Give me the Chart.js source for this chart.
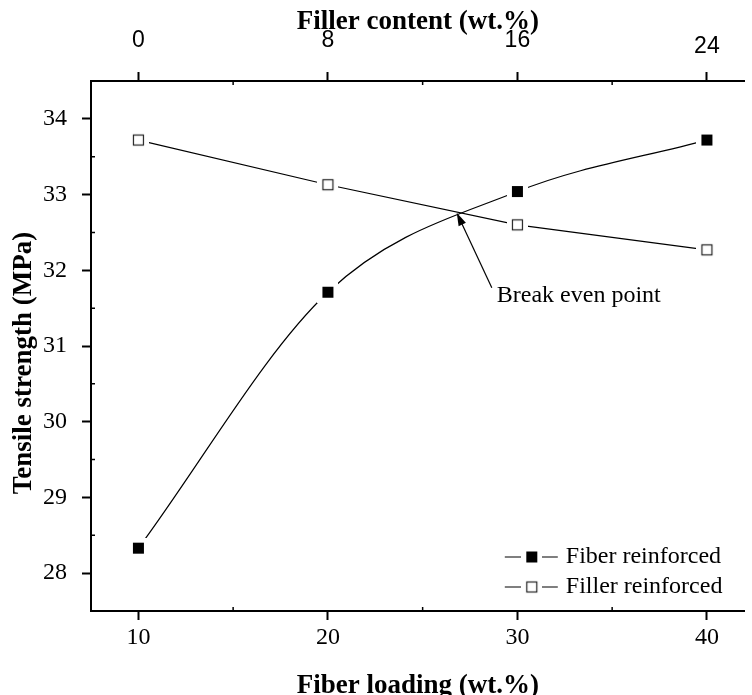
<!DOCTYPE html>
<html>
<head>
<meta charset="utf-8">
<script src="https://cdn.jsdelivr.net/npm/chart.js@4.4.0/dist/chart.umd.min.js"></script>
<style>
  html, body { margin: 0; padding: 0; background: #fff; overflow: hidden; }
  #wrap { width: 752px; height: 695px; }
</style>
</head>
<body>
<div id="wrap"><canvas id="chart" width="752" height="695"></canvas></div>
<script>
// data
const fiberLoading = [10, 20, 30, 40];
const fillerContentLabels = ['0', '8', '16', '24'];
const fiberReinforced = [28.33, 31.71, 33.04, 33.72];
const fillerReinforced = [33.72, 33.13, 32.60, 32.27];
const yTicks = [28, 29, 30, 31, 32, 33, 34];
const xMinorTicks = [15, 25, 35];
const yMinorTicks = [28.5, 29.5, 30.5, 31.5, 32.5, 33.5];
const breakEvenPoint = { x: 26.8, y: 32.76 };
const breakEvenLabel = { x: 28.65, y: 31.77, text: 'Break even point' };
const yTitle = 'Tensile strength (MPa)';

const SERIF = '"Liberation Serif", "Times New Roman", serif';
const SANS = '"Liberation Sans", Arial, sans-serif';

// square marker with a white halo so the line stops short of it, like Origin does
function makeMarker(filled) {
    const c = document.createElement('canvas');
    c.width = 21; c.height = 21;
    const g = c.getContext('2d');
    g.fillStyle = '#fff';
    g.fillRect(0, 0, 21, 21);
    if (filled) {
        g.fillStyle = '#000';
        g.fillRect(5, 5, 11, 11);
    } else {
        g.strokeStyle = '#222';
        g.lineWidth = 1.2;
        g.strokeRect(5.5, 5.5, 10, 10);
    }
    return c;
}
const filledMarker = makeMarker(true);
const openMarker = makeMarker(false);

const setTicks = values => scale => { scale.ticks = values.map(v => ({ value: v })); };

const minorTicks = {
    id: 'minorTicks',
    afterDraw(chart) {
        const { ctx, chartArea: a, scales } = chart;
        ctx.save();
        ctx.strokeStyle = '#000';
        ctx.lineWidth = 1.5;
        ctx.beginPath();
        xMinorTicks.forEach(v => {
            const px = scales.x.getPixelForValue(v);
            ctx.moveTo(px, a.bottom); ctx.lineTo(px, a.bottom - 4);
            ctx.moveTo(px, a.top); ctx.lineTo(px, a.top + 4);
        });
        yMinorTicks.forEach(v => {
            const py = scales.y.getPixelForValue(v);
            ctx.moveTo(a.left, py); ctx.lineTo(a.left + 4, py);
        });
        ctx.stroke();
        ctx.restore();
    }
};

// y title sits a bit below the middle of the axis in the original, so draw it here
const yAxisTitle = {
    id: 'yAxisTitle',
    afterDraw(chart) {
        const { ctx, chartArea: a } = chart;
        ctx.save();
        ctx.translate(24, (a.top + a.bottom) / 2 + 17);
        ctx.rotate(-Math.PI / 2);
        ctx.font = 'bold 27px ' + SERIF;
        ctx.fillStyle = '#000';
        ctx.textAlign = 'center';
        ctx.textBaseline = 'middle';
        ctx.fillText(yTitle, 0, 0);
        ctx.restore();
    }
};

const breakEven = {
    id: 'breakEven',
    afterDatasetsDraw(chart) {
        const { ctx, scales } = chart;
        const tipX = scales.x.getPixelForValue(breakEvenPoint.x);
        const tipY = scales.y.getPixelForValue(breakEvenPoint.y);
        const tailX = scales.x.getPixelForValue(breakEvenLabel.x);
        const tailY = scales.y.getPixelForValue(breakEvenLabel.y);
        const ang = Math.atan2(tipY - tailY, tipX - tailX);
        ctx.save();
        ctx.strokeStyle = '#000';
        ctx.fillStyle = '#000';
        ctx.lineWidth = 1.2;
        ctx.beginPath();
        ctx.moveTo(tailX, tailY);
        ctx.lineTo(tipX - 8 * Math.cos(ang), tipY - 8 * Math.sin(ang));
        ctx.stroke();
        ctx.beginPath();
        ctx.moveTo(tipX, tipY);
        ctx.lineTo(tipX - 13 * Math.cos(ang) + 4 * Math.sin(ang), tipY - 13 * Math.sin(ang) - 4 * Math.cos(ang));
        ctx.lineTo(tipX - 13 * Math.cos(ang) - 4 * Math.sin(ang), tipY - 13 * Math.sin(ang) + 4 * Math.cos(ang));
        ctx.closePath();
        ctx.fill();
        ctx.font = '24px ' + SERIF;
        ctx.textAlign = 'left';
        ctx.textBaseline = 'middle';
        ctx.fillText(breakEvenLabel.text, tailX + 5, tailY + 8);
        ctx.restore();
    }
};

// legend sits inside the plot, bottom right: line - marker - line, then the label
const insideLegend = {
    id: 'insideLegend',
    afterDraw(chart) {
        const { ctx, chartArea: a } = chart;
        const markers = [filledMarker, openMarker];
        ctx.save();
        ctx.font = '24px ' + SERIF;
        ctx.textBaseline = 'middle';
        ctx.fillStyle = '#000';
        chart.data.datasets.forEach((ds, i) => {
            const y = a.bottom - 54 + i * 30;
            const x0 = a.right - 240;
            ctx.strokeStyle = '#000';
            ctx.lineWidth = 1.2;
            ctx.beginPath();
            ctx.moveTo(x0, y); ctx.lineTo(x0 + 53, y);
            ctx.stroke();
            ctx.drawImage(markers[i], x0 + 27 - 10.5, y - 10.5);
            ctx.fillText(ds.label, x0 + 61, y);
        });
        ctx.restore();
    }
};

const axisCommon = {
    border: { color: '#000', width: 2 },
    grid: { drawOnChartArea: false, drawTicks: true, tickLength: 9, tickWidth: 2, tickColor: '#000' }
};

const fitBox = (w, h) => s => {
    if (w) s.width = w;
    if (h) s.height = h;
    s.paddingLeft = s.paddingRight = s.paddingTop = s.paddingBottom = 0;
};

new Chart(document.getElementById('chart'), {
    type: 'line',
    data: {
        datasets: [
            {
                label: 'Fiber reinforced',
                data: fiberLoading.map((x, i) => ({ x, y: fiberReinforced[i] })),
                borderColor: '#000',
                borderWidth: 1.2,
                cubicInterpolationMode: 'monotone',
                pointStyle: filledMarker,
                pointRadius: 6
            },
            {
                label: 'Filler reinforced',
                data: fiberLoading.map((x, i) => ({ x, y: fillerReinforced[i] })),
                borderColor: '#000',
                borderWidth: 1.2,
                tension: 0,
                pointStyle: openMarker,
                pointRadius: 6
            }
        ]
    },
    options: {
        responsive: false,
        animation: false,
        events: [],
        layout: { padding: 0 },
        plugins: { legend: { display: false }, tooltip: { enabled: false } },
        scales: {
            x: {
                ...axisCommon,
                type: 'linear',
                position: 'bottom',
                min: 7.5,
                max: 42,
                afterBuildTicks: setTicks(fiberLoading),
                afterFit: fitBox(0, 84),
                ticks: { color: '#000', padding: 3, font: { family: SERIF, size: 24 } },
                title: {
                    display: true,
                    text: 'Fiber loading (wt.%)',
                    color: '#000',
                    font: { family: SERIF, size: 27, weight: 'bold', lineHeight: 0.7 },
                    padding: 0
                }
            },
            x2: {
                ...axisCommon,
                type: 'linear',
                position: 'top',
                min: 7.5,
                max: 42,
                afterBuildTicks: setTicks(fiberLoading),
                afterFit: fitBox(0, 81),
                ticks: {
                    color: '#000',
                    padding: 18,
                    // the last label ("24") sits a little lower in the original
                    font: ctx => ({ family: SANS, size: 23, lineHeight: ctx.index === 3 ? 0.68 : 1.2 }),
                    callback: (v, i) => fillerContentLabels[i]
                },
                title: {
                    display: true,
                    text: 'Filler content (wt.%)',
                    color: '#000',
                    font: { family: SERIF, size: 27, weight: 'bold' },
                    padding: { top: 6, bottom: 0 }
                }
            },
            y: {
                ...axisCommon,
                min: 27.5,
                max: 34.5,
                afterBuildTicks: setTicks(yTicks),
                afterFit: fitBox(91, 0),
                ticks: { color: '#000', padding: 15, font: { family: SERIF, size: 24 } }
            }
        }
    },
    plugins: [minorTicks, yAxisTitle, breakEven, insideLegend]
});
</script>
</body>
</html>
